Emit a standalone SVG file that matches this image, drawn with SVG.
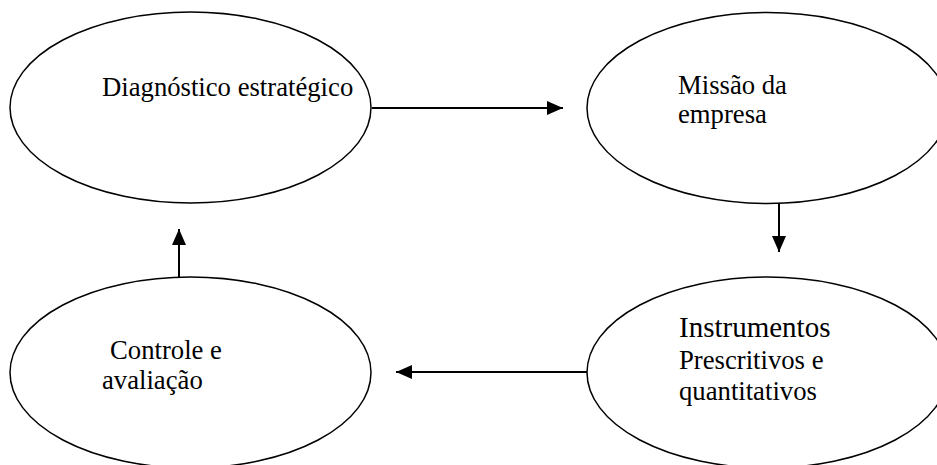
<svg xmlns="http://www.w3.org/2000/svg" width="937" height="465" viewBox="0 0 937 465">
<style>
.node ellipse{fill:#fff;stroke:#000;stroke-width:1.5}
.lbl{font-family:"Liberation Serif","Times New Roman",serif;font-size:26.7px;fill:#000}
.big{font-size:29px}
.conn line{stroke:#000;stroke-width:2;marker-end:url(#ah)}
</style>
<defs>
<marker id="ah" markerUnits="userSpaceOnUse" viewBox="0 0 16 14" markerWidth="16" markerHeight="14" refX="16" refY="7" orient="auto">
<path d="M0,0 L16,7 L0,14 Z" fill="#000"/>
</marker>
</defs>
<rect width="937" height="465" fill="#fff"/>
<g id="diagnostico" class="node">
<ellipse cx="190.5" cy="107.5" rx="180.5" ry="95.5"/>
<text class="lbl" x="102" y="96">Diagnóstico estratégico</text>
</g>
<g id="missao" class="node">
<ellipse cx="767.5" cy="108" rx="180.5" ry="95.5"/>
<text class="lbl" x="678" y="94">Missão da</text>
<text class="lbl" x="678" y="123">empresa</text>
</g>
<g id="instrumentos" class="node">
<ellipse cx="767.5" cy="372.5" rx="180.5" ry="95.5"/>
<text class="lbl big" x="679" y="337">Instrumentos</text>
<text class="lbl" x="679" y="369">Prescritivos e</text>
<text class="lbl" x="679" y="400">quantitativos</text>
</g>
<g id="controle" class="node">
<ellipse cx="190.5" cy="372.5" rx="180.5" ry="95.5"/>
<text class="lbl" x="110" y="359">Controle e</text>
<text class="lbl" x="102" y="389">avaliação</text>
</g>
<g id="connectors" class="conn">
<line x1="372" y1="108" x2="563" y2="108"/>
<line x1="779" y1="203" x2="779" y2="252"/>
<line x1="587" y1="372" x2="396" y2="372"/>
<line x1="179" y1="277" x2="179" y2="229"/>
</g>
</svg>
